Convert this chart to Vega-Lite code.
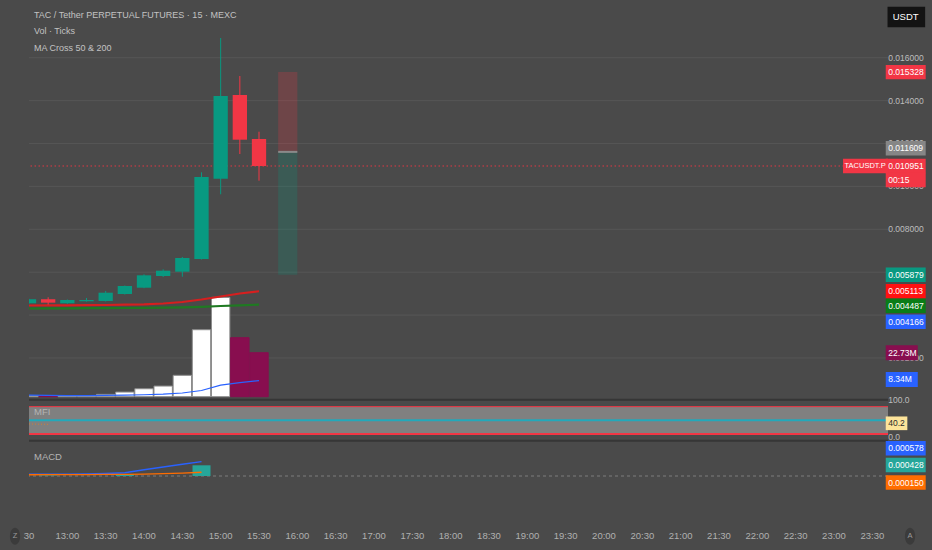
{
  "$schema": "https://vega.github.io/schema/vega-lite/v6.json",
  "width": 859,
  "height": 520,
  "autosize": {"type": "none"},
  "padding": {"left": 29, "right": 44, "top": 0, "bottom": 30},
  "background": "#4a4a4a",
  "config": {
    "view": {"stroke": null},
    "text": {"font": "Liberation Sans"}
  },
  "datasets": {
    "bars": [
      {"t": "2025-06-10T12:30:00Z", "o": 0.00455, "h": 0.00476, "l": 0.00453, "c": 0.00474, "vol": 0.5, "vma": 0.8, "ma50": 0.004448, "ma200": 0.004308, "macd": 0.00007, "sig": 0.00005, "hist": null, "mfi": 42},
      {"t": "2025-06-10T12:45:00Z", "o": 0.00474, "h": 0.00483, "l": 0.004485, "c": 0.00458, "vol": 0.35, "vma": 0.7, "ma50": 0.004452, "ma200": 0.004312, "macd": 0.00007, "sig": 0.000052, "hist": 0.00002, "mfi": 41},
      {"t": "2025-06-10T13:00:00Z", "o": 0.00455, "h": 0.004727, "l": 0.004527, "c": 0.004704, "vol": 0.6, "vma": 0.6, "ma50": 0.004457, "ma200": 0.004317, "macd": 0.000075, "sig": 0.000055, "hist": null, "mfi": null},
      {"t": "2025-06-10T13:15:00Z", "o": 0.004643, "h": 0.004797, "l": 0.004629, "c": 0.004704, "vol": 0.6, "vma": 0.6, "ma50": 0.004462, "ma200": 0.004321, "macd": 0.00008, "sig": 0.000058, "hist": null, "mfi": null},
      {"t": "2025-06-10T13:30:00Z", "o": 0.004657, "h": 0.005124, "l": 0.004634, "c": 0.005044, "vol": 1.2, "vma": 0.7, "ma50": 0.004471, "ma200": 0.004326, "macd": 0.0001, "sig": 0.000062, "hist": null, "mfi": null},
      {"t": "2025-06-10T13:45:00Z", "o": 0.004984, "h": 0.00538, "l": 0.00496, "c": 0.005357, "vol": 2.4, "vma": 0.8, "ma50": 0.004485, "ma200": 0.00433, "macd": 0.00013, "sig": 0.000068, "hist": 0.00007, "mfi": null},
      {"t": "2025-06-10T14:00:00Z", "o": 0.005277, "h": 0.005902, "l": 0.005254, "c": 0.005855, "vol": 4.1, "vma": 1.0, "ma50": 0.004503, "ma200": 0.00434, "macd": 0.00025, "sig": 0.000078, "hist": null, "mfi": null},
      {"t": "2025-06-10T14:15:00Z", "o": 0.005823, "h": 0.006135, "l": 0.005776, "c": 0.00607, "vol": 5.5, "vma": 1.3, "ma50": 0.004541, "ma200": 0.004349, "macd": 0.00036, "sig": 0.000092, "hist": null, "mfi": null},
      {"t": "2025-06-10T14:30:00Z", "o": 0.006023, "h": 0.006709, "l": 0.00579, "c": 0.006662, "vol": 11.05, "vma": 1.9, "ma50": 0.004611, "ma200": 0.004363, "macd": 0.00047, "sig": 0.000115, "hist": null, "mfi": null},
      {"t": "2025-06-10T14:45:00Z", "o": 0.006615, "h": 0.010657, "l": 0.006592, "c": 0.010438, "vol": 34.6, "vma": 3.2, "ma50": 0.004727, "ma200": 0.004387, "macd": 0.000578, "sig": 0.00015, "hist": 0.000428, "mfi": null},
      {"t": "2025-06-10T15:00:00Z", "o": 0.010359, "h": 0.016918, "l": 0.009632, "c": 0.014214, "vol": 51.3, "vma": 6.0, "ma50": 0.004867, "ma200": 0.004424, "macd": null, "sig": null, "hist": null, "mfi": null},
      {"t": "2025-06-10T15:15:00Z", "o": 0.014261, "h": 0.015147, "l": 0.01151, "c": 0.012177, "vol": 30.5, "vma": 7.3, "ma50": 0.005007, "ma200": 0.004457, "macd": null, "sig": null, "hist": null, "mfi": null},
      {"t": "2025-06-10T15:30:00Z", "o": 0.01221, "h": 0.01255, "l": 0.010266, "c": 0.010951, "vol": 22.73, "vma": 8.34, "ma50": 0.005113, "ma200": 0.004487, "macd": null, "sig": null, "hist": null, "mfi": null}
    ],
    "timelabels": [
      {"t": "2025-06-10T12:30:00Z", "lab": "30"},
      {"t": "2025-06-10T13:00:00Z", "lab": "13:00"},
      {"t": "2025-06-10T13:30:00Z", "lab": "13:30"},
      {"t": "2025-06-10T14:00:00Z", "lab": "14:00"},
      {"t": "2025-06-10T14:30:00Z", "lab": "14:30"},
      {"t": "2025-06-10T15:00:00Z", "lab": "15:00"},
      {"t": "2025-06-10T15:30:00Z", "lab": "15:30"},
      {"t": "2025-06-10T16:00:00Z", "lab": "16:00"},
      {"t": "2025-06-10T16:30:00Z", "lab": "16:30"},
      {"t": "2025-06-10T17:00:00Z", "lab": "17:00"},
      {"t": "2025-06-10T17:30:00Z", "lab": "17:30"},
      {"t": "2025-06-10T18:00:00Z", "lab": "18:00"},
      {"t": "2025-06-10T18:30:00Z", "lab": "18:30"},
      {"t": "2025-06-10T19:00:00Z", "lab": "19:00"},
      {"t": "2025-06-10T19:30:00Z", "lab": "19:30"},
      {"t": "2025-06-10T20:00:00Z", "lab": "20:00"},
      {"t": "2025-06-10T20:30:00Z", "lab": "20:30"},
      {"t": "2025-06-10T21:00:00Z", "lab": "21:00"},
      {"t": "2025-06-10T21:30:00Z", "lab": "21:30"},
      {"t": "2025-06-10T22:00:00Z", "lab": "22:00"},
      {"t": "2025-06-10T22:30:00Z", "lab": "22:30"},
      {"t": "2025-06-10T23:00:00Z", "lab": "23:00"},
      {"t": "2025-06-10T23:30:00Z", "lab": "23:30"}
    ],
    "position": [
      {"zone": "stop", "t0": "2025-06-10T15:45:00Z", "t1": "2025-06-10T16:00:00Z", "lo": 0.011609, "hi": 0.015328},
      {"zone": "target", "t0": "2025-06-10T15:45:00Z", "t1": "2025-06-10T16:00:00Z", "lo": 0.005879, "hi": 0.011609}
    ],
    "grid": [
      {"at": 0.016}, {"at": 0.014}, {"at": 0.012}, {"at": 0.010}, {"at": 0.008}, {"at": 0.006}, {"at": 0.004}, {"at": 0.002}
    ],
    "ticks": [
      {"pane": "price", "at": 0.016, "txt": "0.016000"},
      {"pane": "price", "at": 0.014, "txt": "0.014000"},
      {"pane": "price", "at": 0.012, "txt": "0.012000"},
      {"pane": "price", "at": 0.010, "txt": "0.010000"},
      {"pane": "price", "at": 0.008, "txt": "0.008000"},
      {"pane": "price", "at": 0.002, "txt": "0.002000"},
      {"pane": "mfi", "at": 94.6, "txt": "100.0"},
      {"pane": "mfi", "at": 13.3, "txt": "0.0"}
    ],
    "tags": [
      {"pane": "price", "k": "stop", "at": 0.015328, "txt": "0.015328"},
      {"pane": "price", "k": "entry", "at": 0.011776, "txt": "0.011609"},
      {"pane": "price", "k": "last", "at": 0.010951, "txt": "0.010951"},
      {"pane": "price", "k": "last", "at": 0.010298, "txt": "00:15"},
      {"pane": "price", "k": "target", "at": 0.005879, "txt": "0.005879"},
      {"pane": "price", "k": "ma50", "at": 0.005113, "txt": "0.005113"},
      {"pane": "price", "k": "ma200", "at": 0.004434, "txt": "0.004487"},
      {"pane": "price", "k": "ma3", "at": 0.003692, "txt": "0.004166"},
      {"pane": "vol", "k": "voldown", "at": 22.73, "txt": "22.73M"},
      {"pane": "vol", "k": "vma", "at": 8.9, "txt": "8.34M"},
      {"pane": "mfi", "k": "mfi", "at": 43.4, "txt": "40.2"},
      {"pane": "macd", "k": "macd", "at": 0.001108, "txt": "0.000578"},
      {"pane": "macd", "k": "hist", "at": 0.00044, "txt": "0.000428"},
      {"pane": "macd", "k": "signal", "at": -0.00026, "txt": "0.000150"}
    ]
  },
  "resolve": {"scale": {"y": "independent"}},
  "layer": [
    {
      "data": {"name": "grid"},
      "mark": {"type": "rule", "stroke": "#565656", "strokeWidth": 1},
      "encoding": {"y": {"field": "at", "type": "quantitative", "scale": {"domain": [-0.005553, 0.01869], "nice": false, "zero": false}, "axis": null}}
    },
    {
      "data": {"values": [{"edge": "volume/mfi", "p": 0.00005}, {"edge": "mfi/macd", "p": -0.00186}]},
      "mark": {"type": "rule", "stroke": "#363636", "strokeWidth": 2},
      "encoding": {"y": {"field": "p", "type": "quantitative", "scale": {"domain": [-0.005553, 0.01869], "nice": false, "zero": false}, "axis": null}}
    },
    {
      "data": {"values": [{"hi": 80, "lo": 20}]},
      "mark": {"type": "rect", "fill": "#808080"},
      "encoding": {
        "y": {"field": "hi", "type": "quantitative", "scale": {"domain": [-169.1, 973.7], "nice": false, "zero": false}, "axis": null},
        "y2": {"field": "lo"}
      }
    },
    {
      "data": {"values": [{"lvl": 80}, {"lvl": 50}, {"lvl": 20}]},
      "mark": {"type": "rule"},
      "encoding": {
        "y": {"field": "lvl", "type": "quantitative", "scale": {"domain": [-169.1, 973.7], "nice": false, "zero": false}, "axis": null},
        "color": {"condition": {"test": "datum.lvl == 50", "value": "#22a9bb"}, "value": "#f23645"},
        "strokeWidth": {"condition": {"test": "datum.lvl == 80", "value": 1}, "value": 2}
      }
    },
    {
      "data": {"name": "bars"},
      "mark": {"type": "line", "stroke": "#c8803e", "strokeWidth": 1, "strokeDash": [1, 2], "clip": true},
      "encoding": {
        "x": {"field": "t", "type": "temporal", "title": null, "axis": null, "scale": {"type": "utc", "domain": [1749558600000, 1749598935000], "padding": 0, "nice": false}},
        "y": {"field": "mfi", "type": "quantitative", "scale": {"domain": [-169.1, 973.7], "nice": false, "zero": false}, "axis": null}
      }
    },
    {
      "data": {"values": [{"zero": 0}]},
      "mark": {"type": "rule", "stroke": "#7c7c7c", "strokeWidth": 1, "strokeDash": [3, 3]},
      "encoding": {"y": {"field": "zero", "type": "quantitative", "scale": {"domain": [-0.00176, 0.01904], "nice": false, "zero": false}, "axis": null}}
    },
    {
      "data": {"name": "bars"},
      "mark": {"type": "bar", "size": 18.4, "strokeWidth": 1, "clip": true},
      "encoding": {
        "x": {"field": "t", "type": "temporal", "title": null, "axis": null, "scale": {"type": "utc", "domain": [1749558600000, 1749598935000], "padding": 0, "nice": false}},
        "y": {"field": "vol", "type": "quantitative", "scale": {"domain": [-63.7, 204.93], "nice": false, "zero": false}, "axis": null},
        "y2": {"datum": 0},
        "fill": {"condition": {"test": "datum.c >= datum.o", "value": "#ffffff"}, "value": "#880e4f"},
        "stroke": {"condition": {"test": "datum.c >= datum.o", "value": "#8c8c8c"}, "value": "#880e4f"}
      }
    },
    {
      "data": {"name": "bars"},
      "mark": {"type": "line", "stroke": "#2962ff", "strokeWidth": 1.2, "clip": true},
      "encoding": {
        "x": {"field": "t", "type": "temporal", "title": null, "axis": null, "scale": {"type": "utc", "domain": [1749558600000, 1749598935000], "padding": 0, "nice": false}},
        "y": {"field": "vma", "type": "quantitative", "scale": {"domain": [-63.7, 204.93], "nice": false, "zero": false}, "axis": null}
      }
    },
    {
      "data": {"name": "position"},
      "mark": {"type": "rect", "opacity": 0.22, "clip": true},
      "encoding": {
        "x": {"field": "t0", "type": "temporal", "title": null, "axis": null, "scale": {"type": "utc", "domain": [1749558600000, 1749598935000], "padding": 0, "nice": false}},
        "x2": {"field": "t1"},
        "y": {"field": "lo", "type": "quantitative", "scale": {"domain": [-0.005553, 0.01869], "nice": false, "zero": false}, "axis": null},
        "y2": {"field": "hi"},
        "fill": {"condition": {"test": "datum.zone == 'stop'", "value": "#f23645"}, "value": "#089981"}
      }
    },
    {
      "data": {"name": "position"},
      "transform": [{"filter": "datum.zone == 'stop'"}],
      "mark": {"type": "rule", "stroke": "#8a8a8a", "strokeWidth": 2, "clip": true},
      "encoding": {
        "x": {"field": "t0", "type": "temporal", "title": null, "axis": null, "scale": {"type": "utc", "domain": [1749558600000, 1749598935000], "padding": 0, "nice": false}},
        "x2": {"field": "t1"},
        "y": {"field": "lo", "type": "quantitative", "scale": {"domain": [-0.005553, 0.01869], "nice": false, "zero": false}, "axis": null}
      }
    },
    {
      "data": {"values": [{"last": 0.010951}]},
      "mark": {"type": "rule", "stroke": "#f23645", "strokeWidth": 1, "strokeDash": [1.5, 2.5], "opacity": 0.9},
      "encoding": {"y": {"field": "last", "type": "quantitative", "scale": {"domain": [-0.005553, 0.01869], "nice": false, "zero": false}, "axis": null}}
    },
    {
      "data": {"name": "bars"},
      "mark": {"type": "line", "stroke": "#1f7a22", "strokeWidth": 2.2, "clip": true},
      "encoding": {
        "x": {"field": "t", "type": "temporal", "title": null, "axis": null, "scale": {"type": "utc", "domain": [1749558600000, 1749598935000], "padding": 0, "nice": false}},
        "y": {"field": "ma200", "type": "quantitative", "scale": {"domain": [-0.005553, 0.01869], "nice": false, "zero": false}, "axis": null}
      }
    },
    {
      "data": {"name": "bars"},
      "mark": {"type": "line", "stroke": "#d61f1f", "strokeWidth": 2.2, "clip": true},
      "encoding": {
        "x": {"field": "t", "type": "temporal", "title": null, "axis": null, "scale": {"type": "utc", "domain": [1749558600000, 1749598935000], "padding": 0, "nice": false}},
        "y": {"field": "ma50", "type": "quantitative", "scale": {"domain": [-0.005553, 0.01869], "nice": false, "zero": false}, "axis": null}
      }
    },
    {
      "data": {"name": "bars"},
      "mark": {"type": "rule", "strokeWidth": 1, "clip": true},
      "encoding": {
        "x": {"field": "t", "type": "temporal", "title": null, "axis": null, "scale": {"type": "utc", "domain": [1749558600000, 1749598935000], "padding": 0, "nice": false}},
        "y": {"field": "l", "type": "quantitative", "scale": {"domain": [-0.005553, 0.01869], "nice": false, "zero": false}, "axis": null},
        "y2": {"field": "h"},
        "color": {"condition": {"test": "datum.c >= datum.o", "value": "#089981"}, "value": "#f23645"}
      }
    },
    {
      "data": {"name": "bars"},
      "mark": {"type": "bar", "size": 14.3, "clip": true},
      "encoding": {
        "x": {"field": "t", "type": "temporal", "title": null, "axis": null, "scale": {"type": "utc", "domain": [1749558600000, 1749598935000], "padding": 0, "nice": false}},
        "y": {"field": "o", "type": "quantitative", "scale": {"domain": [-0.005553, 0.01869], "nice": false, "zero": false}, "axis": null},
        "y2": {"field": "c"},
        "color": {"condition": {"test": "datum.c >= datum.o", "value": "#089981"}, "value": "#f23645"}
      }
    },
    {
      "data": {"name": "bars"},
      "mark": {"type": "bar", "size": 18, "fill": "#26a69a", "clip": true},
      "encoding": {
        "x": {"field": "t", "type": "temporal", "title": null, "axis": null, "scale": {"type": "utc", "domain": [1749558600000, 1749598935000], "padding": 0, "nice": false}},
        "y": {"field": "hist", "type": "quantitative", "scale": {"domain": [-0.00176, 0.01904], "nice": false, "zero": false}, "axis": null},
        "y2": {"datum": 0}
      }
    },
    {
      "data": {"name": "bars"},
      "mark": {"type": "line", "stroke": "#2962ff", "strokeWidth": 1.3, "clip": true},
      "encoding": {
        "x": {"field": "t", "type": "temporal", "title": null, "axis": null, "scale": {"type": "utc", "domain": [1749558600000, 1749598935000], "padding": 0, "nice": false}},
        "y": {"field": "macd", "type": "quantitative", "scale": {"domain": [-0.00176, 0.01904], "nice": false, "zero": false}, "axis": null}
      }
    },
    {
      "data": {"name": "bars"},
      "mark": {"type": "line", "stroke": "#ff6d00", "strokeWidth": 1.3, "clip": true},
      "encoding": {
        "x": {"field": "t", "type": "temporal", "title": null, "axis": null, "scale": {"type": "utc", "domain": [1749558600000, 1749598935000], "padding": 0, "nice": false}},
        "y": {"field": "sig", "type": "quantitative", "scale": {"domain": [-0.00176, 0.01904], "nice": false, "zero": false}, "axis": null}
      }
    },
    {
      "data": {"name": "timelabels"},
      "mark": {"type": "text", "align": "center", "baseline": "middle", "fontSize": 9.5, "color": "#b0b0b0"},
      "encoding": {
        "x": {"field": "t", "type": "temporal", "title": null, "axis": null, "scale": {"type": "utc", "domain": [1749558600000, 1749598935000], "padding": 0, "nice": false}},
        "y": {"datum": -0.006312, "scale": {"domain": [-0.005553, 0.01869], "nice": false, "zero": false}, "axis": null},
        "text": {"field": "lab"}
      }
    },
    {
      "data": {"values": [{"header": "chart"}]},
      "mark": {"type": "text", "align": "left", "baseline": "middle", "fontSize": 9, "lineHeight": 16.5, "color": "#c2c2c2"},
      "encoding": {
        "x": {"datum": 1749558835000, "type": "temporal", "title": null, "axis": null, "scale": {"type": "utc", "domain": [1749558600000, 1749598935000], "padding": 0, "nice": false}},
        "y": {"datum": 0.017991, "scale": {"domain": [-0.005553, 0.01869], "nice": false, "zero": false}, "axis": null},
        "text": {"value": ["TAC / Tether PERPETUAL FUTURES · 15 · MEXC", "Vol · Ticks", "MA Cross 50 & 200"]}
      }
    },
    {
      "data": {"values": [{"pane": "MFI", "at": 68.2}]},
      "mark": {"type": "text", "align": "left", "baseline": "middle", "fontSize": 9.5, "color": "#b4b4b4"},
      "encoding": {
        "x": {"datum": 1749558835000, "type": "temporal", "title": null, "axis": null, "scale": {"type": "utc", "domain": [1749558600000, 1749598935000], "padding": 0, "nice": false}},
        "y": {"field": "at", "type": "quantitative", "scale": {"domain": [-169.1, 973.7], "nice": false, "zero": false}, "axis": null},
        "text": {"field": "pane"}
      }
    },
    {
      "data": {"values": [{"pane": "MACD", "at": 0.00076}]},
      "mark": {"type": "text", "align": "left", "baseline": "middle", "fontSize": 9.5, "color": "#b4b4b4"},
      "encoding": {
        "x": {"datum": 1749558835000, "type": "temporal", "title": null, "axis": null, "scale": {"type": "utc", "domain": [1749558600000, 1749598935000], "padding": 0, "nice": false}},
        "y": {"field": "at", "type": "quantitative", "scale": {"domain": [-0.00176, 0.01904], "nice": false, "zero": false}, "axis": null},
        "text": {"field": "pane"}
      }
    },
    {
      "data": {"name": "ticks"},
      "transform": [{"filter": "datum.pane == 'price'"}],
      "mark": {"type": "text", "align": "left", "baseline": "middle", "dx": 2.5, "fontSize": 8.5, "color": "#bdbdbd"},
      "encoding": {
        "x": {"datum": 1749598829000, "type": "temporal", "title": null, "axis": null, "scale": {"type": "utc", "domain": [1749558600000, 1749598935000], "padding": 0, "nice": false}},
        "y": {"field": "at", "type": "quantitative", "scale": {"domain": [-0.005553, 0.01869], "nice": false, "zero": false}, "axis": null},
        "text": {"field": "txt"}
      }
    },
    {
      "data": {"name": "ticks"},
      "transform": [{"filter": "datum.pane == 'mfi'"}],
      "mark": {"type": "text", "align": "left", "baseline": "middle", "dx": 2.5, "fontSize": 8.5, "color": "#bdbdbd"},
      "encoding": {
        "x": {"datum": 1749598829000, "type": "temporal", "title": null, "axis": null, "scale": {"type": "utc", "domain": [1749558600000, 1749598935000], "padding": 0, "nice": false}},
        "y": {"field": "at", "type": "quantitative", "scale": {"domain": [-169.1, 973.7], "nice": false, "zero": false}, "axis": null},
        "text": {"field": "txt"}
      }
    },
    {
      "data": {"name": "tags"},
      "transform": [{"filter": "datum.pane == 'price'"}],
      "layer": [
        {
          "mark": {"type": "point", "shape": "M0,-0.4 L2.22,-0.4 L2.22,0.4 L0,0.4 Z", "size": 1296, "filled": true, "opacity": 1, "strokeWidth": 0},
          "encoding": {
            "x": {"datum": 1749598829000, "type": "temporal", "title": null, "axis": null, "scale": {"type": "utc", "domain": [1749558600000, 1749598935000], "padding": 0, "nice": false}},
            "y": {"field": "at", "type": "quantitative", "scale": {"domain": [-0.005553, 0.01869], "nice": false, "zero": false}, "axis": null},
            "color": {"field": "k", "type": "nominal", "legend": null, "scale": {"domain": ["stop", "entry", "last", "target", "ma50", "ma200", "ma3", "voldown", "vma", "mfi", "macd", "hist", "signal"], "range": ["#f23645", "#868686", "#f23645", "#089981", "#ff1111", "#0a7d18", "#2962ff", "#880e4f", "#2962ff", "#fde49a", "#2962ff", "#26a69a", "#ff6d00"]}}
          }
        },
        {
          "mark": {"type": "text", "align": "left", "baseline": "middle", "dx": 2.5, "fontSize": 8.5, "color": "#ffffff"},
          "encoding": {
            "x": {"datum": 1749598829000, "type": "temporal", "title": null, "axis": null, "scale": {"type": "utc", "domain": [1749558600000, 1749598935000], "padding": 0, "nice": false}},
            "y": {"field": "at", "type": "quantitative", "scale": {"domain": [-0.005553, 0.01869], "nice": false, "zero": false}, "axis": null},
            "text": {"field": "txt"}
          }
        }
      ]
    },
    {
      "data": {"name": "tags"},
      "transform": [{"filter": "datum.pane == 'vol'"}],
      "layer": [
        {
          "mark": {"type": "point", "shape": "M0,-0.42 L1.78,-0.42 L1.78,0.42 L0,0.42 Z", "size": 1296, "filled": true, "opacity": 1, "strokeWidth": 0},
          "encoding": {
            "x": {"datum": 1749598829000, "type": "temporal", "title": null, "axis": null, "scale": {"type": "utc", "domain": [1749558600000, 1749598935000], "padding": 0, "nice": false}},
            "y": {"field": "at", "type": "quantitative", "scale": {"domain": [-63.7, 204.93], "nice": false, "zero": false}, "axis": null},
            "color": {"field": "k", "type": "nominal", "legend": null, "scale": {"domain": ["stop", "entry", "last", "target", "ma50", "ma200", "ma3", "voldown", "vma", "mfi", "macd", "hist", "signal"], "range": ["#f23645", "#868686", "#f23645", "#089981", "#ff1111", "#0a7d18", "#2962ff", "#880e4f", "#2962ff", "#fde49a", "#2962ff", "#26a69a", "#ff6d00"]}}
          }
        },
        {
          "mark": {"type": "text", "align": "left", "baseline": "middle", "dx": 2.5, "fontSize": 8.5, "color": "#ffffff"},
          "encoding": {
            "x": {"datum": 1749598829000, "type": "temporal", "title": null, "axis": null, "scale": {"type": "utc", "domain": [1749558600000, 1749598935000], "padding": 0, "nice": false}},
            "y": {"field": "at", "type": "quantitative", "scale": {"domain": [-63.7, 204.93], "nice": false, "zero": false}, "axis": null},
            "text": {"field": "txt"}
          }
        }
      ]
    },
    {
      "data": {"name": "tags"},
      "transform": [{"filter": "datum.pane == 'mfi'"}],
      "layer": [
        {
          "mark": {"type": "point", "shape": "M0,-0.38 L1.2,-0.38 L1.2,0.38 L0,0.38 Z", "size": 1296, "filled": true, "opacity": 1, "strokeWidth": 0},
          "encoding": {
            "x": {"datum": 1749598829000, "type": "temporal", "title": null, "axis": null, "scale": {"type": "utc", "domain": [1749558600000, 1749598935000], "padding": 0, "nice": false}},
            "y": {"field": "at", "type": "quantitative", "scale": {"domain": [-169.1, 973.7], "nice": false, "zero": false}, "axis": null},
            "color": {"field": "k", "type": "nominal", "legend": null, "scale": {"domain": ["stop", "entry", "last", "target", "ma50", "ma200", "ma3", "voldown", "vma", "mfi", "macd", "hist", "signal"], "range": ["#f23645", "#868686", "#f23645", "#089981", "#ff1111", "#0a7d18", "#2962ff", "#880e4f", "#2962ff", "#fde49a", "#2962ff", "#26a69a", "#ff6d00"]}}
          }
        },
        {
          "mark": {"type": "text", "align": "left", "baseline": "middle", "dx": 2.5, "fontSize": 8.5, "color": "#2b2b2b"},
          "encoding": {
            "x": {"datum": 1749598829000, "type": "temporal", "title": null, "axis": null, "scale": {"type": "utc", "domain": [1749558600000, 1749598935000], "padding": 0, "nice": false}},
            "y": {"field": "at", "type": "quantitative", "scale": {"domain": [-169.1, 973.7], "nice": false, "zero": false}, "axis": null},
            "text": {"field": "txt"}
          }
        }
      ]
    },
    {
      "data": {"name": "tags"},
      "transform": [{"filter": "datum.pane == 'macd'"}],
      "layer": [
        {
          "mark": {"type": "point", "shape": "M0,-0.4 L2.22,-0.4 L2.22,0.4 L0,0.4 Z", "size": 1296, "filled": true, "opacity": 1, "strokeWidth": 0},
          "encoding": {
            "x": {"datum": 1749598829000, "type": "temporal", "title": null, "axis": null, "scale": {"type": "utc", "domain": [1749558600000, 1749598935000], "padding": 0, "nice": false}},
            "y": {"field": "at", "type": "quantitative", "scale": {"domain": [-0.00176, 0.01904], "nice": false, "zero": false}, "axis": null},
            "color": {"field": "k", "type": "nominal", "legend": null, "scale": {"domain": ["stop", "entry", "last", "target", "ma50", "ma200", "ma3", "voldown", "vma", "mfi", "macd", "hist", "signal"], "range": ["#f23645", "#868686", "#f23645", "#089981", "#ff1111", "#0a7d18", "#2962ff", "#880e4f", "#2962ff", "#fde49a", "#2962ff", "#26a69a", "#ff6d00"]}}
          }
        },
        {
          "mark": {"type": "text", "align": "left", "baseline": "middle", "dx": 2.5, "fontSize": 8.5, "color": "#ffffff"},
          "encoding": {
            "x": {"datum": 1749598829000, "type": "temporal", "title": null, "axis": null, "scale": {"type": "utc", "domain": [1749558600000, 1749598935000], "padding": 0, "nice": false}},
            "y": {"field": "at", "type": "quantitative", "scale": {"domain": [-0.00176, 0.01904], "nice": false, "zero": false}, "axis": null},
            "text": {"field": "txt"}
          }
        }
      ]
    },
    {
      "data": {"values": [{"sym": "TACUSDT.P", "price": 0.010951}]},
      "layer": [
        {
          "mark": {"type": "point", "shape": "M0,-0.4 L2.5,-0.4 L2.5,0.4 L0,0.4 Z", "size": 1296, "filled": true, "opacity": 1, "strokeWidth": 0, "color": "#f23645"},
          "encoding": {
            "x": {"datum": 1749596823000, "type": "temporal", "title": null, "axis": null, "scale": {"type": "utc", "domain": [1749558600000, 1749598935000], "padding": 0, "nice": false}},
            "y": {"field": "price", "type": "quantitative", "scale": {"domain": [-0.005553, 0.01869], "nice": false, "zero": false}, "axis": null}
          }
        },
        {
          "mark": {"type": "text", "align": "left", "baseline": "middle", "dx": 1.5, "fontSize": 7.5, "color": "#ffffff"},
          "encoding": {
            "x": {"datum": 1749596823000, "type": "temporal", "title": null, "axis": null, "scale": {"type": "utc", "domain": [1749558600000, 1749598935000], "padding": 0, "nice": false}},
            "y": {"field": "price", "type": "quantitative", "scale": {"domain": [-0.005553, 0.01869], "nice": false, "zero": false}, "axis": null},
            "text": {"field": "sym"}
          }
        }
      ]
    },
    {
      "data": {"values": [{"cur": "USDT", "at": 0.017897}]},
      "layer": [
        {
          "mark": {"type": "point", "shape": "M0.1,-0.57 L2.19,-0.57 L2.19,0.57 L0.1,0.57 Z", "size": 1296, "filled": true, "opacity": 1, "strokeWidth": 0, "color": "#131313"},
          "encoding": {
            "x": {"datum": 1749598829000, "type": "temporal", "title": null, "axis": null, "scale": {"type": "utc", "domain": [1749558600000, 1749598935000], "padding": 0, "nice": false}},
            "y": {"field": "at", "type": "quantitative", "scale": {"domain": [-0.005553, 0.01869], "nice": false, "zero": false}, "axis": null}
          }
        },
        {
          "mark": {"type": "text", "align": "left", "baseline": "middle", "dx": 7, "fontSize": 9.5, "color": "#ffffff"},
          "encoding": {
            "x": {"datum": 1749598829000, "type": "temporal", "title": null, "axis": null, "scale": {"type": "utc", "domain": [1749558600000, 1749598935000], "padding": 0, "nice": false}},
            "y": {"field": "at", "type": "quantitative", "scale": {"domain": [-0.005553, 0.01869], "nice": false, "zero": false}, "axis": null},
            "text": {"field": "cur"}
          }
        }
      ]
    },
    {
      "data": {"values": [{"t": 1749557943000, "sym": "Z"}, {"t": 1749599969000, "sym": "A"}]},
      "layer": [
        {
          "mark": {"type": "point", "shape": "M0,-1 A0.6,1 0 1,1 0,1 A0.6,1 0 1,1 0,-1 Z", "size": 289, "filled": true, "opacity": 1, "strokeWidth": 0, "color": "#3b3b3b"},
          "encoding": {
            "x": {"field": "t", "type": "temporal", "title": null, "axis": null, "scale": {"type": "utc", "domain": [1749558600000, 1749598935000], "padding": 0, "nice": false}},
            "y": {"datum": -0.006312, "scale": {"domain": [-0.005553, 0.01869], "nice": false, "zero": false}, "axis": null}
          }
        },
        {
          "mark": {"type": "text", "align": "center", "baseline": "middle", "fontSize": 7.5, "color": "#9a9a9a"},
          "encoding": {
            "x": {"field": "t", "type": "temporal", "title": null, "axis": null, "scale": {"type": "utc", "domain": [1749558600000, 1749598935000], "padding": 0, "nice": false}},
            "y": {"datum": -0.006312, "scale": {"domain": [-0.005553, 0.01869], "nice": false, "zero": false}, "axis": null},
            "text": {"field": "sym"}
          }
        }
      ]
    }
  ]
}
